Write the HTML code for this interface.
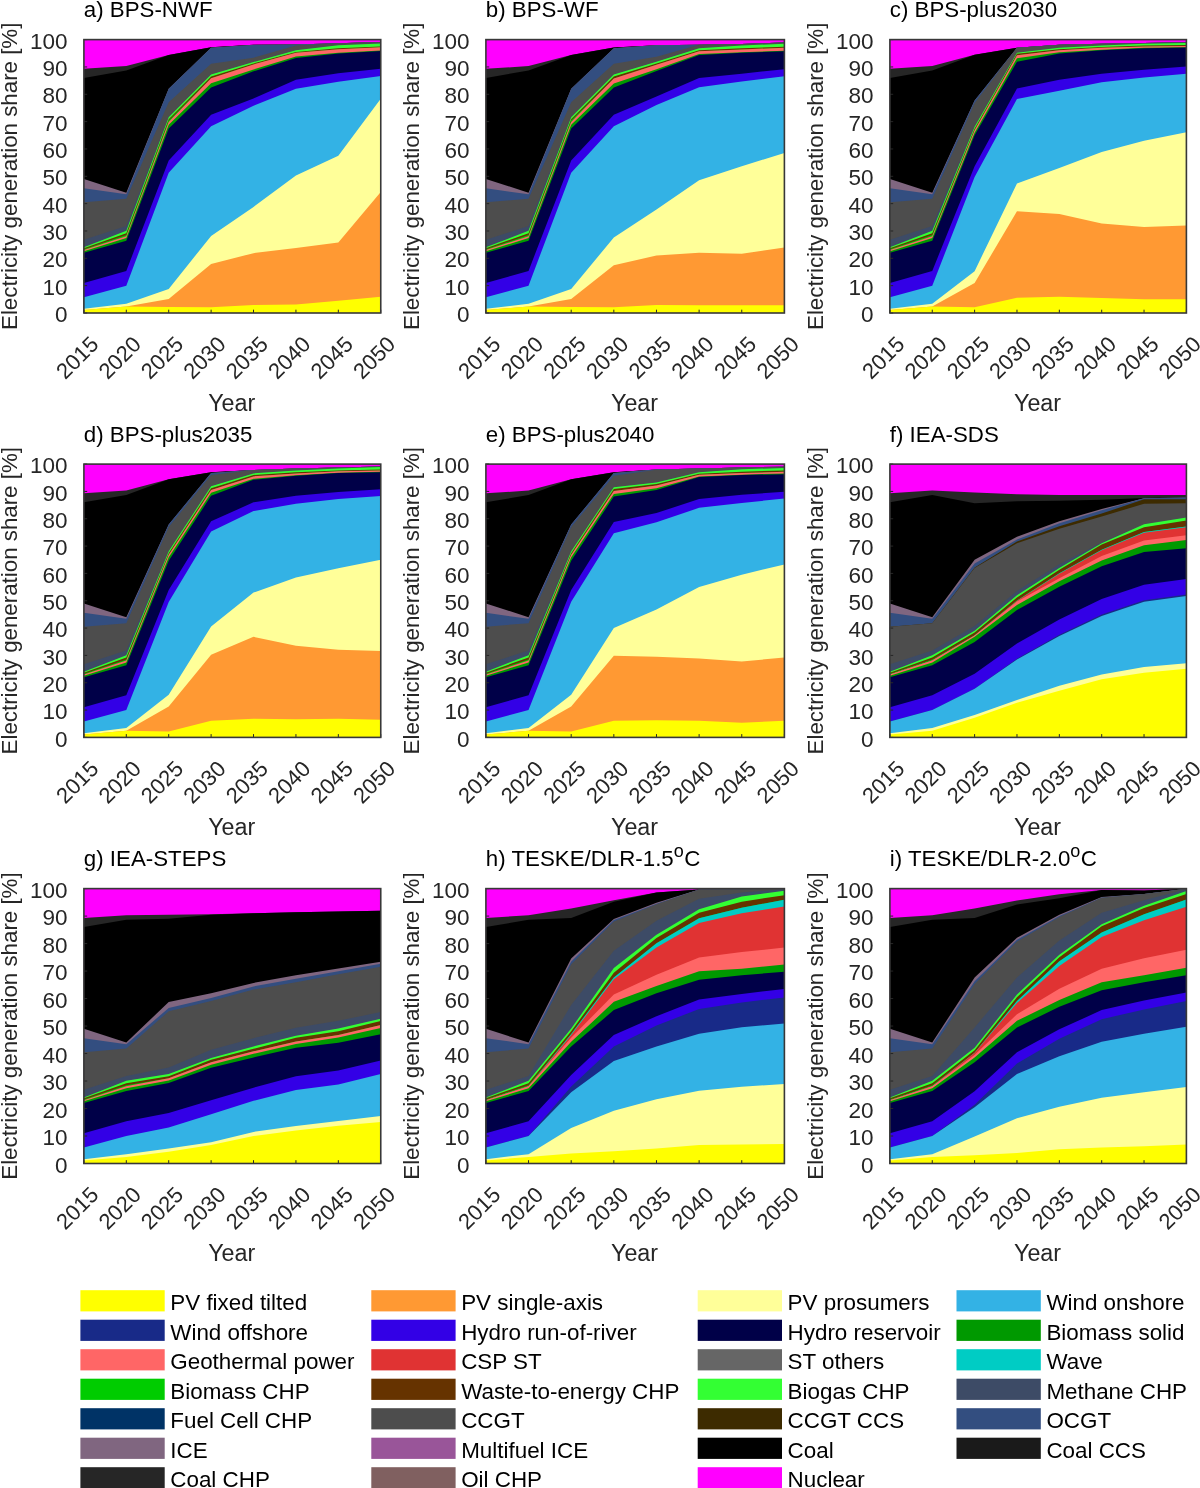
<!DOCTYPE html>
<html><head><meta charset="utf-8"><style>
html,body{margin:0;padding:0;background:#fff;}
body{width:1200px;height:1488px;overflow:hidden;font-family:"Liberation Sans",sans-serif;}
svg{display:block;will-change:transform;}
</style></head><body>
<svg width="1200" height="1488" viewBox="0 0 1200 1488">
<rect width="1200" height="1488" fill="#fff"/>
<polygon points="83.90,39.60 126.31,39.60 168.71,39.60 211.12,39.60 253.53,39.60 295.94,39.60 338.34,39.60 380.75,39.60 380.75,313.00 83.90,313.00" fill="#FF00FF"/>
<polygon points="83.90,68.85 126.31,66.12 168.71,54.91 211.12,47.26 253.53,44.79 295.94,44.52 338.34,43.15 380.75,42.06 380.75,313.00 83.90,313.00" fill="#262626"/>
<polygon points="83.90,77.88 126.31,70.49 168.71,54.91 211.12,47.26 253.53,44.79 295.94,44.52 338.34,43.15 380.75,42.06 380.75,313.00 83.90,313.00" fill="#000000"/>
<polygon points="83.90,179.03 126.31,192.70 168.71,88.81 211.12,47.80 253.53,45.07 295.94,44.52 338.34,43.15 380.75,42.06 380.75,313.00 83.90,313.00" fill="#806680"/>
<polygon points="83.90,188.33 126.31,194.34 168.71,88.81 211.12,47.80 253.53,45.07 295.94,44.52 338.34,43.15 380.75,42.06 380.75,313.00 83.90,313.00" fill="#334E80"/>
<polygon points="83.90,202.27 126.31,198.72 168.71,102.21 211.12,63.66 253.53,57.64 295.94,45.61 338.34,43.15 380.75,42.06 380.75,313.00 83.90,313.00" fill="#4D4D4D"/>
<polygon points="83.90,239.73 126.31,226.06 168.71,117.25 211.12,74.60 253.53,62.02 295.94,50.26 338.34,45.34 380.75,43.43 380.75,313.00 83.90,313.00" fill="#3D4B66"/>
<polygon points="83.90,247.25 126.31,230.71 168.71,117.25 211.12,74.60 253.53,62.02 295.94,50.26 338.34,45.34 380.75,43.43 380.75,313.00 83.90,313.00" fill="#33FF33"/>
<polygon points="83.90,248.20 126.31,233.17 168.71,119.16 211.12,76.51 253.53,63.39 295.94,51.90 338.34,48.35 380.75,46.44 380.75,313.00 83.90,313.00" fill="#663300"/>
<polygon points="83.90,249.30 126.31,235.08 168.71,120.53 211.12,78.15 253.53,64.48 295.94,52.72 338.34,49.17 380.75,47.26 380.75,313.00 83.90,313.00" fill="#00CC00"/>
<polygon points="83.90,250.12 126.31,236.17 168.71,121.89 211.12,78.15 253.53,64.48 295.94,52.72 338.34,49.17 380.75,47.26 380.75,313.00 83.90,313.00" fill="#FF6666"/>
<polygon points="83.90,251.21 126.31,238.09 168.71,124.63 211.12,83.34 253.53,69.40 295.94,56.55 338.34,52.72 380.75,50.54 380.75,313.00 83.90,313.00" fill="#009900"/>
<polygon points="83.90,252.85 126.31,240.82 168.71,128.46 211.12,87.45 253.53,71.31 295.94,57.92 338.34,53.54 380.75,51.08 380.75,313.00 83.90,313.00" fill="#000048"/>
<polygon points="83.90,282.93 126.31,270.90 168.71,160.44 211.12,114.78 253.53,98.38 295.94,79.79 338.34,73.23 380.75,68.85 380.75,313.00 83.90,313.00" fill="#3300E6"/>
<polygon points="83.90,297.14 126.31,285.66 168.71,172.75 211.12,126.27 253.53,105.76 295.94,88.81 338.34,81.70 380.75,75.96 380.75,313.00 83.90,313.00" fill="#33B2E5"/>
<polygon points="83.90,308.76 126.31,303.70 168.71,288.94 211.12,235.90 253.53,206.92 295.94,175.48 338.34,155.80 380.75,98.65 380.75,313.00 83.90,313.00" fill="#FFFF99"/>
<polygon points="83.90,309.99 126.31,306.44 168.71,299.06 211.12,264.06 253.53,253.13 295.94,247.93 338.34,242.46 380.75,191.88 380.75,313.00 83.90,313.00" fill="#FF9933"/>
<polygon points="83.90,309.99 126.31,306.44 168.71,306.99 211.12,307.26 253.53,305.07 295.94,304.52 338.34,300.70 380.75,296.87 380.75,313.00 83.90,313.00" fill="#FFFF00"/>
<path d="M83.90 313.00h3.3M83.90 285.66h3.3M83.90 258.32h3.3M83.90 230.98h3.3M83.90 203.64h3.3M83.90 176.30h3.3M83.90 148.96h3.3M83.90 121.62h3.3M83.90 94.28h3.3M83.90 66.94h3.3M83.90 39.60h3.3M83.90 313.00v-3.3M126.31 313.00v-3.3M168.71 313.00v-3.3M211.12 313.00v-3.3M253.53 313.00v-3.3M295.94 313.00v-3.3M338.34 313.00v-3.3M380.75 313.00v-3.3" stroke="#262626" stroke-width="1" fill="none"/>
<rect x="83.90" y="39.60" width="296.85" height="273.40" fill="none" stroke="#383838" stroke-width="1.6"/>
<text x="83.80" y="17.00" font-size="22.3" font-family="Liberation Sans, sans-serif" fill="#000">a) BPS-NWF</text>
<text x="67.55" y="322.10" font-size="22.5" font-family="Liberation Sans, sans-serif" fill="#262626" text-anchor="end">0</text>
<text x="67.55" y="294.76" font-size="22.5" font-family="Liberation Sans, sans-serif" fill="#262626" text-anchor="end">10</text>
<text x="67.55" y="267.42" font-size="22.5" font-family="Liberation Sans, sans-serif" fill="#262626" text-anchor="end">20</text>
<text x="67.55" y="240.08" font-size="22.5" font-family="Liberation Sans, sans-serif" fill="#262626" text-anchor="end">30</text>
<text x="67.55" y="212.74" font-size="22.5" font-family="Liberation Sans, sans-serif" fill="#262626" text-anchor="end">40</text>
<text x="67.55" y="185.40" font-size="22.5" font-family="Liberation Sans, sans-serif" fill="#262626" text-anchor="end">50</text>
<text x="67.55" y="158.06" font-size="22.5" font-family="Liberation Sans, sans-serif" fill="#262626" text-anchor="end">60</text>
<text x="67.55" y="130.72" font-size="22.5" font-family="Liberation Sans, sans-serif" fill="#262626" text-anchor="end">70</text>
<text x="67.55" y="103.38" font-size="22.5" font-family="Liberation Sans, sans-serif" fill="#262626" text-anchor="end">80</text>
<text x="67.55" y="76.04" font-size="22.5" font-family="Liberation Sans, sans-serif" fill="#262626" text-anchor="end">90</text>
<text x="67.55" y="48.70" font-size="22.5" font-family="Liberation Sans, sans-serif" fill="#262626" text-anchor="end">100</text>
<text transform="translate(99.90 345.70) rotate(-45)" font-size="22" font-family="Liberation Sans, sans-serif" fill="#262626" text-anchor="end">2015</text>
<text transform="translate(142.31 345.70) rotate(-45)" font-size="22" font-family="Liberation Sans, sans-serif" fill="#262626" text-anchor="end">2020</text>
<text transform="translate(184.71 345.70) rotate(-45)" font-size="22" font-family="Liberation Sans, sans-serif" fill="#262626" text-anchor="end">2025</text>
<text transform="translate(227.12 345.70) rotate(-45)" font-size="22" font-family="Liberation Sans, sans-serif" fill="#262626" text-anchor="end">2030</text>
<text transform="translate(269.53 345.70) rotate(-45)" font-size="22" font-family="Liberation Sans, sans-serif" fill="#262626" text-anchor="end">2035</text>
<text transform="translate(311.94 345.70) rotate(-45)" font-size="22" font-family="Liberation Sans, sans-serif" fill="#262626" text-anchor="end">2040</text>
<text transform="translate(354.34 345.70) rotate(-45)" font-size="22" font-family="Liberation Sans, sans-serif" fill="#262626" text-anchor="end">2045</text>
<text transform="translate(396.75 345.70) rotate(-45)" font-size="22" font-family="Liberation Sans, sans-serif" fill="#262626" text-anchor="end">2050</text>
<text x="231.73" y="410.80" font-size="23.3" font-family="Liberation Sans, sans-serif" fill="#262626" text-anchor="middle">Year</text>
<text transform="translate(16.50 176.30) rotate(-90)" font-size="22.3" font-family="Liberation Sans, sans-serif" fill="#262626" text-anchor="middle">Electricity generation share [%]</text>
<polygon points="485.90,39.60 528.54,39.60 571.19,39.60 613.83,39.60 656.47,39.60 699.11,39.60 741.76,39.60 784.40,39.60 784.40,313.00 485.90,313.00" fill="#FF00FF"/>
<polygon points="485.90,68.85 528.54,66.12 571.19,54.91 613.83,47.53 656.47,45.34 699.11,44.79 741.76,43.97 784.40,42.61 784.40,313.00 485.90,313.00" fill="#262626"/>
<polygon points="485.90,77.88 528.54,70.49 571.19,54.91 613.83,47.53 656.47,45.34 699.11,44.79 741.76,43.97 784.40,42.61 784.40,313.00 485.90,313.00" fill="#000000"/>
<polygon points="485.90,179.03 528.54,192.70 571.19,88.81 613.83,48.35 656.47,45.34 699.11,44.79 741.76,43.97 784.40,42.61 784.40,313.00 485.90,313.00" fill="#806680"/>
<polygon points="485.90,188.33 528.54,194.34 571.19,88.81 613.83,48.35 656.47,45.34 699.11,44.79 741.76,43.97 784.40,42.61 784.40,313.00 485.90,313.00" fill="#334E80"/>
<polygon points="485.90,202.27 528.54,198.72 571.19,102.21 613.83,63.66 656.47,56.82 699.11,44.79 741.76,43.97 784.40,42.61 784.40,313.00 485.90,313.00" fill="#4D4D4D"/>
<polygon points="485.90,239.73 528.54,226.06 571.19,117.25 613.83,74.60 656.47,61.75 699.11,48.35 741.76,45.61 784.40,43.70 784.40,313.00 485.90,313.00" fill="#3D4B66"/>
<polygon points="485.90,247.25 528.54,230.71 571.19,117.25 613.83,74.60 656.47,61.75 699.11,48.35 741.76,45.61 784.40,43.70 784.40,313.00 485.90,313.00" fill="#33FF33"/>
<polygon points="485.90,248.20 528.54,233.17 571.19,119.16 613.83,76.51 656.47,63.39 699.11,50.26 741.76,48.35 784.40,46.71 784.40,313.00 485.90,313.00" fill="#663300"/>
<polygon points="485.90,249.30 528.54,235.08 571.19,120.53 613.83,78.42 656.47,64.75 699.11,51.36 741.76,49.44 784.40,47.80 784.40,313.00 485.90,313.00" fill="#00CC00"/>
<polygon points="485.90,250.12 528.54,236.17 571.19,121.89 613.83,78.42 656.47,64.75 699.11,51.36 741.76,49.44 784.40,47.80 784.40,313.00 485.90,313.00" fill="#FF6666"/>
<polygon points="485.90,251.21 528.54,238.09 571.19,124.63 613.83,83.62 656.47,69.13 699.11,54.09 741.76,52.18 784.40,50.81 784.40,313.00 485.90,313.00" fill="#009900"/>
<polygon points="485.90,252.85 528.54,240.82 571.19,128.46 613.83,87.45 656.47,71.04 699.11,54.91 741.76,52.72 784.40,51.36 784.40,313.00 485.90,313.00" fill="#000048"/>
<polygon points="485.90,282.93 528.54,270.90 571.19,160.44 613.83,114.78 656.47,96.47 699.11,77.88 741.76,73.78 784.40,69.13 784.40,313.00 485.90,313.00" fill="#3300E6"/>
<polygon points="485.90,297.14 528.54,285.66 571.19,172.75 613.83,126.27 656.47,104.94 699.11,87.17 741.76,81.43 784.40,76.24 784.40,313.00 485.90,313.00" fill="#33B2E5"/>
<polygon points="485.90,308.76 528.54,303.70 571.19,288.94 613.83,237.54 656.47,209.38 699.11,180.13 741.76,166.18 784.40,153.06 784.40,313.00 485.90,313.00" fill="#FFFF99"/>
<polygon points="485.90,309.99 528.54,306.44 571.19,299.06 613.83,265.29 656.47,255.59 699.11,252.85 741.76,253.67 784.40,247.38 784.40,313.00 485.90,313.00" fill="#FF9933"/>
<polygon points="485.90,309.99 528.54,306.44 571.19,306.99 613.83,307.26 656.47,305.07 699.11,305.34 741.76,305.34 784.40,305.34 784.40,313.00 485.90,313.00" fill="#FFFF00"/>
<path d="M485.90 313.00h3.3M485.90 285.66h3.3M485.90 258.32h3.3M485.90 230.98h3.3M485.90 203.64h3.3M485.90 176.30h3.3M485.90 148.96h3.3M485.90 121.62h3.3M485.90 94.28h3.3M485.90 66.94h3.3M485.90 39.60h3.3M485.90 313.00v-3.3M528.54 313.00v-3.3M571.19 313.00v-3.3M613.83 313.00v-3.3M656.47 313.00v-3.3M699.11 313.00v-3.3M741.76 313.00v-3.3M784.40 313.00v-3.3" stroke="#262626" stroke-width="1" fill="none"/>
<rect x="485.90" y="39.60" width="298.50" height="273.40" fill="none" stroke="#383838" stroke-width="1.6"/>
<text x="485.80" y="17.00" font-size="22.3" font-family="Liberation Sans, sans-serif" fill="#000">b) BPS-WF</text>
<text x="469.55" y="322.10" font-size="22.5" font-family="Liberation Sans, sans-serif" fill="#262626" text-anchor="end">0</text>
<text x="469.55" y="294.76" font-size="22.5" font-family="Liberation Sans, sans-serif" fill="#262626" text-anchor="end">10</text>
<text x="469.55" y="267.42" font-size="22.5" font-family="Liberation Sans, sans-serif" fill="#262626" text-anchor="end">20</text>
<text x="469.55" y="240.08" font-size="22.5" font-family="Liberation Sans, sans-serif" fill="#262626" text-anchor="end">30</text>
<text x="469.55" y="212.74" font-size="22.5" font-family="Liberation Sans, sans-serif" fill="#262626" text-anchor="end">40</text>
<text x="469.55" y="185.40" font-size="22.5" font-family="Liberation Sans, sans-serif" fill="#262626" text-anchor="end">50</text>
<text x="469.55" y="158.06" font-size="22.5" font-family="Liberation Sans, sans-serif" fill="#262626" text-anchor="end">60</text>
<text x="469.55" y="130.72" font-size="22.5" font-family="Liberation Sans, sans-serif" fill="#262626" text-anchor="end">70</text>
<text x="469.55" y="103.38" font-size="22.5" font-family="Liberation Sans, sans-serif" fill="#262626" text-anchor="end">80</text>
<text x="469.55" y="76.04" font-size="22.5" font-family="Liberation Sans, sans-serif" fill="#262626" text-anchor="end">90</text>
<text x="469.55" y="48.70" font-size="22.5" font-family="Liberation Sans, sans-serif" fill="#262626" text-anchor="end">100</text>
<text transform="translate(501.90 345.70) rotate(-45)" font-size="22" font-family="Liberation Sans, sans-serif" fill="#262626" text-anchor="end">2015</text>
<text transform="translate(544.54 345.70) rotate(-45)" font-size="22" font-family="Liberation Sans, sans-serif" fill="#262626" text-anchor="end">2020</text>
<text transform="translate(587.19 345.70) rotate(-45)" font-size="22" font-family="Liberation Sans, sans-serif" fill="#262626" text-anchor="end">2025</text>
<text transform="translate(629.83 345.70) rotate(-45)" font-size="22" font-family="Liberation Sans, sans-serif" fill="#262626" text-anchor="end">2030</text>
<text transform="translate(672.47 345.70) rotate(-45)" font-size="22" font-family="Liberation Sans, sans-serif" fill="#262626" text-anchor="end">2035</text>
<text transform="translate(715.11 345.70) rotate(-45)" font-size="22" font-family="Liberation Sans, sans-serif" fill="#262626" text-anchor="end">2040</text>
<text transform="translate(757.76 345.70) rotate(-45)" font-size="22" font-family="Liberation Sans, sans-serif" fill="#262626" text-anchor="end">2045</text>
<text transform="translate(800.40 345.70) rotate(-45)" font-size="22" font-family="Liberation Sans, sans-serif" fill="#262626" text-anchor="end">2050</text>
<text x="634.55" y="410.80" font-size="23.3" font-family="Liberation Sans, sans-serif" fill="#262626" text-anchor="middle">Year</text>
<text transform="translate(418.50 176.30) rotate(-90)" font-size="22.3" font-family="Liberation Sans, sans-serif" fill="#262626" text-anchor="middle">Electricity generation share [%]</text>
<polygon points="889.90,39.60 932.26,39.60 974.61,39.60 1016.97,39.60 1059.33,39.60 1101.69,39.60 1144.04,39.60 1186.40,39.60 1186.40,313.00 889.90,313.00" fill="#FF00FF"/>
<polygon points="889.90,68.85 932.26,66.12 974.61,54.64 1016.97,47.80 1059.33,44.79 1101.69,43.70 1144.04,42.88 1186.40,42.33 1186.40,313.00 889.90,313.00" fill="#262626"/>
<polygon points="889.90,77.88 932.26,70.49 974.61,54.64 1016.97,47.80 1059.33,44.79 1101.69,43.70 1144.04,42.88 1186.40,42.33 1186.40,313.00 889.90,313.00" fill="#000000"/>
<polygon points="889.90,179.03 932.26,192.70 974.61,100.57 1016.97,47.80 1059.33,44.79 1101.69,43.70 1144.04,42.88 1186.40,42.33 1186.40,313.00 889.90,313.00" fill="#806680"/>
<polygon points="889.90,188.33 932.26,194.34 974.61,100.57 1016.97,47.80 1059.33,44.79 1101.69,43.70 1144.04,42.88 1186.40,42.33 1186.40,313.00 889.90,313.00" fill="#334E80"/>
<polygon points="889.90,202.27 932.26,198.72 974.61,103.03 1016.97,47.80 1059.33,44.79 1101.69,43.70 1144.04,42.88 1186.40,42.33 1186.40,313.00 889.90,313.00" fill="#4D4D4D"/>
<polygon points="889.90,239.73 932.26,226.06 974.61,126.81 1016.97,52.72 1059.33,47.80 1101.69,45.61 1144.04,43.70 1186.40,42.88 1186.40,313.00 889.90,313.00" fill="#3D4B66"/>
<polygon points="889.90,247.25 932.26,230.71 974.61,126.81 1016.97,52.72 1059.33,47.80 1101.69,45.61 1144.04,43.70 1186.40,42.88 1186.40,313.00 889.90,313.00" fill="#33FF33"/>
<polygon points="889.90,248.20 932.26,233.17 974.61,128.73 1016.97,53.82 1059.33,49.17 1101.69,46.98 1144.04,45.61 1186.40,45.07 1186.40,313.00 889.90,313.00" fill="#663300"/>
<polygon points="889.90,249.30 932.26,235.08 974.61,130.37 1016.97,55.18 1059.33,50.26 1101.69,47.80 1144.04,46.44 1186.40,45.89 1186.40,313.00 889.90,313.00" fill="#00CC00"/>
<polygon points="889.90,250.12 932.26,236.17 974.61,130.37 1016.97,55.18 1059.33,50.26 1101.69,47.80 1144.04,46.44 1186.40,45.89 1186.40,313.00 889.90,313.00" fill="#FF6666"/>
<polygon points="889.90,251.21 932.26,238.09 974.61,132.83 1016.97,58.19 1059.33,52.18 1101.69,49.72 1144.04,47.80 1186.40,47.26 1186.40,313.00 889.90,313.00" fill="#009900"/>
<polygon points="889.90,252.85 932.26,240.82 974.61,135.29 1016.97,61.75 1059.33,53.54 1101.69,50.26 1144.04,48.35 1186.40,47.53 1186.40,313.00 889.90,313.00" fill="#000048"/>
<polygon points="889.90,282.93 932.26,270.90 974.61,166.18 1016.97,88.54 1059.33,79.79 1101.69,73.78 1144.04,69.67 1186.40,66.39 1186.40,313.00 889.90,313.00" fill="#3300E6"/>
<polygon points="889.90,297.14 932.26,285.66 974.61,177.12 1016.97,98.93 1059.33,90.73 1101.69,82.25 1144.04,77.60 1186.40,73.78 1186.40,313.00 889.90,313.00" fill="#33B2E5"/>
<polygon points="889.90,308.76 932.26,303.70 974.61,271.17 1016.97,183.41 1059.33,168.10 1101.69,151.97 1144.04,140.76 1186.40,132.28 1186.40,313.00 889.90,313.00" fill="#FFFF99"/>
<polygon points="889.90,309.99 932.26,306.44 974.61,282.93 1016.97,211.30 1059.33,214.03 1101.69,223.60 1144.04,226.88 1186.40,225.51 1186.40,313.00 889.90,313.00" fill="#FF9933"/>
<polygon points="889.90,309.99 932.26,306.44 974.61,307.26 1016.97,297.69 1059.33,296.87 1101.69,297.96 1144.04,299.33 1186.40,299.33 1186.40,313.00 889.90,313.00" fill="#FFFF00"/>
<path d="M889.90 313.00h3.3M889.90 285.66h3.3M889.90 258.32h3.3M889.90 230.98h3.3M889.90 203.64h3.3M889.90 176.30h3.3M889.90 148.96h3.3M889.90 121.62h3.3M889.90 94.28h3.3M889.90 66.94h3.3M889.90 39.60h3.3M889.90 313.00v-3.3M932.26 313.00v-3.3M974.61 313.00v-3.3M1016.97 313.00v-3.3M1059.33 313.00v-3.3M1101.69 313.00v-3.3M1144.04 313.00v-3.3M1186.40 313.00v-3.3" stroke="#262626" stroke-width="1" fill="none"/>
<rect x="889.90" y="39.60" width="296.50" height="273.40" fill="none" stroke="#383838" stroke-width="1.6"/>
<text x="889.80" y="17.00" font-size="22.3" font-family="Liberation Sans, sans-serif" fill="#000">c) BPS-plus2030</text>
<text x="873.55" y="322.10" font-size="22.5" font-family="Liberation Sans, sans-serif" fill="#262626" text-anchor="end">0</text>
<text x="873.55" y="294.76" font-size="22.5" font-family="Liberation Sans, sans-serif" fill="#262626" text-anchor="end">10</text>
<text x="873.55" y="267.42" font-size="22.5" font-family="Liberation Sans, sans-serif" fill="#262626" text-anchor="end">20</text>
<text x="873.55" y="240.08" font-size="22.5" font-family="Liberation Sans, sans-serif" fill="#262626" text-anchor="end">30</text>
<text x="873.55" y="212.74" font-size="22.5" font-family="Liberation Sans, sans-serif" fill="#262626" text-anchor="end">40</text>
<text x="873.55" y="185.40" font-size="22.5" font-family="Liberation Sans, sans-serif" fill="#262626" text-anchor="end">50</text>
<text x="873.55" y="158.06" font-size="22.5" font-family="Liberation Sans, sans-serif" fill="#262626" text-anchor="end">60</text>
<text x="873.55" y="130.72" font-size="22.5" font-family="Liberation Sans, sans-serif" fill="#262626" text-anchor="end">70</text>
<text x="873.55" y="103.38" font-size="22.5" font-family="Liberation Sans, sans-serif" fill="#262626" text-anchor="end">80</text>
<text x="873.55" y="76.04" font-size="22.5" font-family="Liberation Sans, sans-serif" fill="#262626" text-anchor="end">90</text>
<text x="873.55" y="48.70" font-size="22.5" font-family="Liberation Sans, sans-serif" fill="#262626" text-anchor="end">100</text>
<text transform="translate(905.90 345.70) rotate(-45)" font-size="22" font-family="Liberation Sans, sans-serif" fill="#262626" text-anchor="end">2015</text>
<text transform="translate(948.26 345.70) rotate(-45)" font-size="22" font-family="Liberation Sans, sans-serif" fill="#262626" text-anchor="end">2020</text>
<text transform="translate(990.61 345.70) rotate(-45)" font-size="22" font-family="Liberation Sans, sans-serif" fill="#262626" text-anchor="end">2025</text>
<text transform="translate(1032.97 345.70) rotate(-45)" font-size="22" font-family="Liberation Sans, sans-serif" fill="#262626" text-anchor="end">2030</text>
<text transform="translate(1075.33 345.70) rotate(-45)" font-size="22" font-family="Liberation Sans, sans-serif" fill="#262626" text-anchor="end">2035</text>
<text transform="translate(1117.69 345.70) rotate(-45)" font-size="22" font-family="Liberation Sans, sans-serif" fill="#262626" text-anchor="end">2040</text>
<text transform="translate(1160.04 345.70) rotate(-45)" font-size="22" font-family="Liberation Sans, sans-serif" fill="#262626" text-anchor="end">2045</text>
<text transform="translate(1202.40 345.70) rotate(-45)" font-size="22" font-family="Liberation Sans, sans-serif" fill="#262626" text-anchor="end">2050</text>
<text x="1037.55" y="410.80" font-size="23.3" font-family="Liberation Sans, sans-serif" fill="#262626" text-anchor="middle">Year</text>
<text transform="translate(822.50 176.30) rotate(-90)" font-size="22.3" font-family="Liberation Sans, sans-serif" fill="#262626" text-anchor="middle">Electricity generation share [%]</text>
<polygon points="83.90,464.10 126.31,464.10 168.71,464.10 211.12,464.10 253.53,464.10 295.94,464.10 338.34,464.10 380.75,464.10 380.75,737.40 83.90,737.40" fill="#FF00FF"/>
<polygon points="83.90,493.34 126.31,490.61 168.71,479.13 211.12,472.30 253.53,470.11 295.94,468.47 338.34,467.38 380.75,466.56 380.75,737.40 83.90,737.40" fill="#262626"/>
<polygon points="83.90,502.36 126.31,494.98 168.71,479.13 211.12,472.30 253.53,470.11 295.94,468.47 338.34,467.38 380.75,466.56 380.75,737.40 83.90,737.40" fill="#000000"/>
<polygon points="83.90,603.48 126.31,617.15 168.71,524.50 211.12,473.12 253.53,470.11 295.94,468.47 338.34,467.38 380.75,466.56 380.75,737.40 83.90,737.40" fill="#806680"/>
<polygon points="83.90,612.78 126.31,618.79 168.71,524.50 211.12,473.12 253.53,470.11 295.94,468.47 338.34,467.38 380.75,466.56 380.75,737.40 83.90,737.40" fill="#334E80"/>
<polygon points="83.90,626.71 126.31,623.16 168.71,526.96 211.12,475.03 253.53,470.11 295.94,468.47 338.34,467.38 380.75,466.56 380.75,737.40 83.90,737.40" fill="#4D4D4D"/>
<polygon points="83.90,664.16 126.31,650.49 168.71,551.28 211.12,486.24 253.53,473.39 295.94,470.39 338.34,468.47 380.75,467.11 380.75,737.40 83.90,737.40" fill="#3D4B66"/>
<polygon points="83.90,671.67 126.31,655.14 168.71,551.28 211.12,486.24 253.53,473.39 295.94,470.39 338.34,468.47 380.75,467.11 380.75,737.40 83.90,737.40" fill="#33FF33"/>
<polygon points="83.90,672.63 126.31,657.60 168.71,553.20 211.12,488.15 253.53,475.03 295.94,472.30 338.34,470.39 380.75,469.57 380.75,737.40 83.90,737.40" fill="#663300"/>
<polygon points="83.90,673.72 126.31,659.51 168.71,554.84 211.12,490.06 253.53,476.40 295.94,473.39 338.34,471.21 380.75,470.39 380.75,737.40 83.90,737.40" fill="#00CC00"/>
<polygon points="83.90,674.54 126.31,660.60 168.71,554.84 211.12,490.06 253.53,476.40 295.94,473.39 338.34,471.21 380.75,470.39 380.75,737.40 83.90,737.40" fill="#FF6666"/>
<polygon points="83.90,675.63 126.31,662.52 168.71,557.30 211.12,492.80 253.53,478.86 295.94,475.31 338.34,472.85 380.75,471.75 380.75,737.40 83.90,737.40" fill="#009900"/>
<polygon points="83.90,677.27 126.31,665.25 168.71,560.85 211.12,495.80 253.53,479.68 295.94,475.85 338.34,473.12 380.75,472.30 380.75,737.40 83.90,737.40" fill="#000048"/>
<polygon points="83.90,707.34 126.31,695.31 168.71,590.09 211.12,521.22 253.53,502.36 295.94,495.80 338.34,491.98 380.75,489.24 380.75,737.40 83.90,737.40" fill="#3300E6"/>
<polygon points="83.90,721.55 126.31,710.07 168.71,602.12 211.12,531.61 253.53,511.11 295.94,503.73 338.34,499.08 380.75,496.08 380.75,737.40 83.90,737.40" fill="#33B2E5"/>
<polygon points="83.90,733.16 126.31,728.11 168.71,694.77 211.12,626.44 253.53,592.55 295.94,577.52 338.34,568.23 380.75,559.75 380.75,737.40 83.90,737.40" fill="#FFFF99"/>
<polygon points="83.90,734.39 126.31,730.84 168.71,706.52 211.12,654.86 253.53,636.83 295.94,645.84 338.34,649.67 380.75,651.04 380.75,737.40 83.90,737.40" fill="#FF9933"/>
<polygon points="83.90,734.39 126.31,730.84 168.71,731.39 211.12,720.73 253.53,718.82 295.94,719.36 338.34,718.82 380.75,719.64 380.75,737.40 83.90,737.40" fill="#FFFF00"/>
<path d="M83.90 737.40h3.3M83.90 710.07h3.3M83.90 682.74h3.3M83.90 655.41h3.3M83.90 628.08h3.3M83.90 600.75h3.3M83.90 573.42h3.3M83.90 546.09h3.3M83.90 518.76h3.3M83.90 491.43h3.3M83.90 464.10h3.3M83.90 737.40v-3.3M126.31 737.40v-3.3M168.71 737.40v-3.3M211.12 737.40v-3.3M253.53 737.40v-3.3M295.94 737.40v-3.3M338.34 737.40v-3.3M380.75 737.40v-3.3" stroke="#262626" stroke-width="1" fill="none"/>
<rect x="83.90" y="464.10" width="296.85" height="273.30" fill="none" stroke="#383838" stroke-width="1.6"/>
<text x="83.80" y="441.50" font-size="22.3" font-family="Liberation Sans, sans-serif" fill="#000">d) BPS-plus2035</text>
<text x="67.55" y="746.50" font-size="22.5" font-family="Liberation Sans, sans-serif" fill="#262626" text-anchor="end">0</text>
<text x="67.55" y="719.17" font-size="22.5" font-family="Liberation Sans, sans-serif" fill="#262626" text-anchor="end">10</text>
<text x="67.55" y="691.84" font-size="22.5" font-family="Liberation Sans, sans-serif" fill="#262626" text-anchor="end">20</text>
<text x="67.55" y="664.51" font-size="22.5" font-family="Liberation Sans, sans-serif" fill="#262626" text-anchor="end">30</text>
<text x="67.55" y="637.18" font-size="22.5" font-family="Liberation Sans, sans-serif" fill="#262626" text-anchor="end">40</text>
<text x="67.55" y="609.85" font-size="22.5" font-family="Liberation Sans, sans-serif" fill="#262626" text-anchor="end">50</text>
<text x="67.55" y="582.52" font-size="22.5" font-family="Liberation Sans, sans-serif" fill="#262626" text-anchor="end">60</text>
<text x="67.55" y="555.19" font-size="22.5" font-family="Liberation Sans, sans-serif" fill="#262626" text-anchor="end">70</text>
<text x="67.55" y="527.86" font-size="22.5" font-family="Liberation Sans, sans-serif" fill="#262626" text-anchor="end">80</text>
<text x="67.55" y="500.53" font-size="22.5" font-family="Liberation Sans, sans-serif" fill="#262626" text-anchor="end">90</text>
<text x="67.55" y="473.20" font-size="22.5" font-family="Liberation Sans, sans-serif" fill="#262626" text-anchor="end">100</text>
<text transform="translate(99.90 770.10) rotate(-45)" font-size="22" font-family="Liberation Sans, sans-serif" fill="#262626" text-anchor="end">2015</text>
<text transform="translate(142.31 770.10) rotate(-45)" font-size="22" font-family="Liberation Sans, sans-serif" fill="#262626" text-anchor="end">2020</text>
<text transform="translate(184.71 770.10) rotate(-45)" font-size="22" font-family="Liberation Sans, sans-serif" fill="#262626" text-anchor="end">2025</text>
<text transform="translate(227.12 770.10) rotate(-45)" font-size="22" font-family="Liberation Sans, sans-serif" fill="#262626" text-anchor="end">2030</text>
<text transform="translate(269.53 770.10) rotate(-45)" font-size="22" font-family="Liberation Sans, sans-serif" fill="#262626" text-anchor="end">2035</text>
<text transform="translate(311.94 770.10) rotate(-45)" font-size="22" font-family="Liberation Sans, sans-serif" fill="#262626" text-anchor="end">2040</text>
<text transform="translate(354.34 770.10) rotate(-45)" font-size="22" font-family="Liberation Sans, sans-serif" fill="#262626" text-anchor="end">2045</text>
<text transform="translate(396.75 770.10) rotate(-45)" font-size="22" font-family="Liberation Sans, sans-serif" fill="#262626" text-anchor="end">2050</text>
<text x="231.73" y="835.20" font-size="23.3" font-family="Liberation Sans, sans-serif" fill="#262626" text-anchor="middle">Year</text>
<text transform="translate(16.50 600.75) rotate(-90)" font-size="22.3" font-family="Liberation Sans, sans-serif" fill="#262626" text-anchor="middle">Electricity generation share [%]</text>
<polygon points="485.90,464.10 528.54,464.10 571.19,464.10 613.83,464.10 656.47,464.10 699.11,464.10 741.76,464.10 784.40,464.10 784.40,737.40 485.90,737.40" fill="#FF00FF"/>
<polygon points="485.90,493.34 528.54,490.61 571.19,479.13 613.83,472.30 656.47,469.57 699.11,468.47 741.76,467.38 784.40,466.83 784.40,737.40 485.90,737.40" fill="#262626"/>
<polygon points="485.90,502.36 528.54,494.98 571.19,479.13 613.83,472.30 656.47,469.57 699.11,468.47 741.76,467.38 784.40,466.83 784.40,737.40 485.90,737.40" fill="#000000"/>
<polygon points="485.90,603.48 528.54,617.15 571.19,524.50 613.83,473.12 656.47,469.57 699.11,468.47 741.76,467.38 784.40,466.83 784.40,737.40 485.90,737.40" fill="#806680"/>
<polygon points="485.90,612.78 528.54,618.79 571.19,524.50 613.83,473.12 656.47,469.57 699.11,468.47 741.76,467.38 784.40,466.83 784.40,737.40 485.90,737.40" fill="#334E80"/>
<polygon points="485.90,626.71 528.54,623.16 571.19,526.96 613.83,475.85 656.47,469.84 699.11,468.47 741.76,467.38 784.40,466.83 784.40,737.40 485.90,737.40" fill="#4D4D4D"/>
<polygon points="485.90,664.16 528.54,650.49 571.19,551.28 613.83,487.33 656.47,482.41 699.11,472.30 741.76,469.29 784.40,467.93 784.40,737.40 485.90,737.40" fill="#3D4B66"/>
<polygon points="485.90,671.67 528.54,655.14 571.19,551.28 613.83,487.33 656.47,482.41 699.11,472.30 741.76,469.29 784.40,467.93 784.40,737.40 485.90,737.40" fill="#33FF33"/>
<polygon points="485.90,672.63 528.54,657.60 571.19,553.20 613.83,488.97 656.47,484.05 699.11,473.67 741.76,471.75 784.40,470.39 784.40,737.40 485.90,737.40" fill="#663300"/>
<polygon points="485.90,673.72 528.54,659.51 571.19,554.84 613.83,490.88 656.47,485.42 699.11,474.76 741.76,473.12 784.40,471.75 784.40,737.40 485.90,737.40" fill="#00CC00"/>
<polygon points="485.90,674.54 528.54,660.60 571.19,554.84 613.83,490.88 656.47,485.42 699.11,474.76 741.76,473.12 784.40,471.75 784.40,737.40 485.90,737.40" fill="#FF6666"/>
<polygon points="485.90,675.63 528.54,662.52 571.19,557.30 613.83,493.89 656.47,488.15 699.11,476.40 741.76,474.76 784.40,473.39 784.40,737.40 485.90,737.40" fill="#009900"/>
<polygon points="485.90,677.27 528.54,665.25 571.19,560.85 613.83,496.62 656.47,490.06 699.11,476.95 741.76,475.03 784.40,474.21 784.40,737.40 485.90,737.40" fill="#000048"/>
<polygon points="485.90,707.34 528.54,695.31 571.19,590.09 613.83,522.04 656.47,513.02 699.11,499.08 741.76,494.71 784.40,491.70 784.40,737.40 485.90,737.40" fill="#3300E6"/>
<polygon points="485.90,721.55 528.54,710.07 571.19,601.84 613.83,533.24 656.47,522.31 699.11,507.83 741.76,502.91 784.40,498.54 784.40,737.40 485.90,737.40" fill="#33B2E5"/>
<polygon points="485.90,733.16 528.54,728.11 571.19,694.77 613.83,628.08 656.47,609.50 699.11,587.09 741.76,574.79 784.40,564.40 784.40,737.40 485.90,737.40" fill="#FFFF99"/>
<polygon points="485.90,734.39 528.54,730.84 571.19,706.52 613.83,655.68 656.47,656.78 699.11,658.42 741.76,661.42 784.40,657.60 784.40,737.40 485.90,737.40" fill="#FF9933"/>
<polygon points="485.90,734.39 528.54,730.84 571.19,731.39 613.83,720.73 656.47,720.18 699.11,720.73 741.76,722.64 784.40,720.73 784.40,737.40 485.90,737.40" fill="#FFFF00"/>
<path d="M485.90 737.40h3.3M485.90 710.07h3.3M485.90 682.74h3.3M485.90 655.41h3.3M485.90 628.08h3.3M485.90 600.75h3.3M485.90 573.42h3.3M485.90 546.09h3.3M485.90 518.76h3.3M485.90 491.43h3.3M485.90 464.10h3.3M485.90 737.40v-3.3M528.54 737.40v-3.3M571.19 737.40v-3.3M613.83 737.40v-3.3M656.47 737.40v-3.3M699.11 737.40v-3.3M741.76 737.40v-3.3M784.40 737.40v-3.3" stroke="#262626" stroke-width="1" fill="none"/>
<rect x="485.90" y="464.10" width="298.50" height="273.30" fill="none" stroke="#383838" stroke-width="1.6"/>
<text x="485.80" y="441.50" font-size="22.3" font-family="Liberation Sans, sans-serif" fill="#000">e) BPS-plus2040</text>
<text x="469.55" y="746.50" font-size="22.5" font-family="Liberation Sans, sans-serif" fill="#262626" text-anchor="end">0</text>
<text x="469.55" y="719.17" font-size="22.5" font-family="Liberation Sans, sans-serif" fill="#262626" text-anchor="end">10</text>
<text x="469.55" y="691.84" font-size="22.5" font-family="Liberation Sans, sans-serif" fill="#262626" text-anchor="end">20</text>
<text x="469.55" y="664.51" font-size="22.5" font-family="Liberation Sans, sans-serif" fill="#262626" text-anchor="end">30</text>
<text x="469.55" y="637.18" font-size="22.5" font-family="Liberation Sans, sans-serif" fill="#262626" text-anchor="end">40</text>
<text x="469.55" y="609.85" font-size="22.5" font-family="Liberation Sans, sans-serif" fill="#262626" text-anchor="end">50</text>
<text x="469.55" y="582.52" font-size="22.5" font-family="Liberation Sans, sans-serif" fill="#262626" text-anchor="end">60</text>
<text x="469.55" y="555.19" font-size="22.5" font-family="Liberation Sans, sans-serif" fill="#262626" text-anchor="end">70</text>
<text x="469.55" y="527.86" font-size="22.5" font-family="Liberation Sans, sans-serif" fill="#262626" text-anchor="end">80</text>
<text x="469.55" y="500.53" font-size="22.5" font-family="Liberation Sans, sans-serif" fill="#262626" text-anchor="end">90</text>
<text x="469.55" y="473.20" font-size="22.5" font-family="Liberation Sans, sans-serif" fill="#262626" text-anchor="end">100</text>
<text transform="translate(501.90 770.10) rotate(-45)" font-size="22" font-family="Liberation Sans, sans-serif" fill="#262626" text-anchor="end">2015</text>
<text transform="translate(544.54 770.10) rotate(-45)" font-size="22" font-family="Liberation Sans, sans-serif" fill="#262626" text-anchor="end">2020</text>
<text transform="translate(587.19 770.10) rotate(-45)" font-size="22" font-family="Liberation Sans, sans-serif" fill="#262626" text-anchor="end">2025</text>
<text transform="translate(629.83 770.10) rotate(-45)" font-size="22" font-family="Liberation Sans, sans-serif" fill="#262626" text-anchor="end">2030</text>
<text transform="translate(672.47 770.10) rotate(-45)" font-size="22" font-family="Liberation Sans, sans-serif" fill="#262626" text-anchor="end">2035</text>
<text transform="translate(715.11 770.10) rotate(-45)" font-size="22" font-family="Liberation Sans, sans-serif" fill="#262626" text-anchor="end">2040</text>
<text transform="translate(757.76 770.10) rotate(-45)" font-size="22" font-family="Liberation Sans, sans-serif" fill="#262626" text-anchor="end">2045</text>
<text transform="translate(800.40 770.10) rotate(-45)" font-size="22" font-family="Liberation Sans, sans-serif" fill="#262626" text-anchor="end">2050</text>
<text x="634.55" y="835.20" font-size="23.3" font-family="Liberation Sans, sans-serif" fill="#262626" text-anchor="middle">Year</text>
<text transform="translate(418.50 600.75) rotate(-90)" font-size="22.3" font-family="Liberation Sans, sans-serif" fill="#262626" text-anchor="middle">Electricity generation share [%]</text>
<polygon points="889.90,464.10 932.26,464.10 974.61,464.10 1016.97,464.10 1059.33,464.10 1101.69,464.10 1144.04,464.10 1186.40,464.10 1186.40,737.40 889.90,737.40" fill="#FF00FF"/>
<polygon points="889.90,493.34 932.26,490.61 974.61,492.52 1016.97,494.16 1059.33,494.98 1101.69,494.98 1144.04,494.98 1186.40,494.98 1186.40,737.40 889.90,737.40" fill="#262626"/>
<polygon points="889.90,502.36 932.26,494.98 974.61,503.18 1016.97,501.27 1059.33,500.72 1101.69,499.63 1144.04,497.99 1186.40,497.17 1186.40,737.40 889.90,737.40" fill="#000000"/>
<polygon points="889.90,603.48 932.26,617.15 974.61,559.75 1016.97,536.80 1059.33,521.22 1101.69,508.92 1144.04,498.26 1186.40,497.44 1186.40,737.40 889.90,737.40" fill="#806680"/>
<polygon points="889.90,612.78 932.26,618.79 974.61,563.58 1016.97,539.53 1059.33,523.13 1101.69,510.29 1144.04,498.26 1186.40,497.44 1186.40,737.40 889.90,737.40" fill="#334E80"/>
<polygon points="889.90,626.71 932.26,623.16 974.61,567.41 1016.97,541.44 1059.33,526.14 1101.69,513.57 1144.04,499.36 1186.40,499.36 1186.40,737.40 889.90,737.40" fill="#3D2B00"/>
<polygon points="889.90,626.71 932.26,623.16 974.61,567.95 1016.97,543.36 1059.33,528.87 1101.69,516.57 1144.04,503.73 1186.40,503.18 1186.40,737.40 889.90,737.40" fill="#4D4D4D"/>
<polygon points="889.90,664.16 932.26,650.49 974.61,625.89 1016.97,590.91 1059.33,564.13 1101.69,542.54 1144.04,524.23 1186.40,517.39 1186.40,737.40 889.90,737.40" fill="#3D4B66"/>
<polygon points="889.90,671.67 932.26,655.14 974.61,630.81 1016.97,595.28 1059.33,567.95 1101.69,543.36 1144.04,524.23 1186.40,517.39 1186.40,737.40 889.90,737.40" fill="#33FF33"/>
<polygon points="889.90,672.63 932.26,657.60 974.61,632.45 1016.97,597.47 1059.33,569.87 1101.69,544.45 1144.04,527.23 1186.40,520.40 1186.40,737.40 889.90,737.40" fill="#663300"/>
<polygon points="889.90,673.72 932.26,659.51 974.61,634.91 1016.97,600.20 1059.33,573.15 1101.69,549.64 1144.04,531.88 1186.40,526.41 1186.40,737.40 889.90,737.40" fill="#00CC00"/>
<polygon points="889.90,674.54 932.26,660.60 974.61,635.46 1016.97,600.75 1059.33,573.15 1101.69,549.64 1144.04,531.88 1186.40,526.41 1186.40,737.40 889.90,737.40" fill="#00CCC4"/>
<polygon points="889.90,674.54 932.26,660.60 974.61,635.46 1016.97,600.75 1059.33,573.69 1101.69,550.19 1144.04,532.70 1186.40,527.23 1186.40,737.40 889.90,737.40" fill="#E03333"/>
<polygon points="889.90,674.54 932.26,660.60 974.61,635.46 1016.97,601.57 1059.33,578.34 1101.69,555.93 1144.04,540.62 1186.40,535.16 1186.40,737.40 889.90,737.40" fill="#FF6666"/>
<polygon points="889.90,675.63 932.26,662.52 974.61,636.69 1016.97,605.12 1059.33,581.35 1101.69,560.57 1144.04,545.27 1186.40,540.08 1186.40,737.40 889.90,737.40" fill="#009900"/>
<polygon points="889.90,677.27 932.26,665.25 974.61,642.02 1016.97,610.04 1059.33,586.81 1101.69,566.31 1144.04,552.10 1186.40,548.28 1186.40,737.40 889.90,737.40" fill="#000048"/>
<polygon points="889.90,707.34 932.26,695.31 974.61,673.72 1016.97,643.38 1059.33,619.61 1101.69,599.11 1144.04,584.63 1186.40,578.89 1186.40,737.40 889.90,737.40" fill="#3300E6"/>
<polygon points="889.90,721.55 932.26,710.07 974.61,688.75 1016.97,658.69 1059.33,634.64 1101.69,614.41 1144.04,600.20 1186.40,594.46 1186.40,737.40 889.90,737.40" fill="#182A88"/>
<polygon points="889.90,721.55 932.26,710.07 974.61,688.75 1016.97,659.51 1059.33,636.01 1101.69,616.05 1144.04,601.84 1186.40,596.10 1186.40,737.40 889.90,737.40" fill="#33B2E5"/>
<polygon points="889.90,733.16 932.26,728.11 974.61,714.99 1016.97,699.96 1059.33,685.75 1101.69,674.54 1144.04,666.89 1186.40,663.34 1186.40,737.40 889.90,737.40" fill="#FFFF99"/>
<polygon points="889.90,734.39 932.26,730.84 974.61,717.72 1016.97,702.69 1059.33,690.67 1101.69,679.19 1144.04,672.63 1186.40,668.80 1186.40,737.40 889.90,737.40" fill="#FFFF00"/>
<path d="M889.90 737.40h3.3M889.90 710.07h3.3M889.90 682.74h3.3M889.90 655.41h3.3M889.90 628.08h3.3M889.90 600.75h3.3M889.90 573.42h3.3M889.90 546.09h3.3M889.90 518.76h3.3M889.90 491.43h3.3M889.90 464.10h3.3M889.90 737.40v-3.3M932.26 737.40v-3.3M974.61 737.40v-3.3M1016.97 737.40v-3.3M1059.33 737.40v-3.3M1101.69 737.40v-3.3M1144.04 737.40v-3.3M1186.40 737.40v-3.3" stroke="#262626" stroke-width="1" fill="none"/>
<rect x="889.90" y="464.10" width="296.50" height="273.30" fill="none" stroke="#383838" stroke-width="1.6"/>
<text x="889.80" y="441.50" font-size="22.3" font-family="Liberation Sans, sans-serif" fill="#000">f) IEA-SDS</text>
<text x="873.55" y="746.50" font-size="22.5" font-family="Liberation Sans, sans-serif" fill="#262626" text-anchor="end">0</text>
<text x="873.55" y="719.17" font-size="22.5" font-family="Liberation Sans, sans-serif" fill="#262626" text-anchor="end">10</text>
<text x="873.55" y="691.84" font-size="22.5" font-family="Liberation Sans, sans-serif" fill="#262626" text-anchor="end">20</text>
<text x="873.55" y="664.51" font-size="22.5" font-family="Liberation Sans, sans-serif" fill="#262626" text-anchor="end">30</text>
<text x="873.55" y="637.18" font-size="22.5" font-family="Liberation Sans, sans-serif" fill="#262626" text-anchor="end">40</text>
<text x="873.55" y="609.85" font-size="22.5" font-family="Liberation Sans, sans-serif" fill="#262626" text-anchor="end">50</text>
<text x="873.55" y="582.52" font-size="22.5" font-family="Liberation Sans, sans-serif" fill="#262626" text-anchor="end">60</text>
<text x="873.55" y="555.19" font-size="22.5" font-family="Liberation Sans, sans-serif" fill="#262626" text-anchor="end">70</text>
<text x="873.55" y="527.86" font-size="22.5" font-family="Liberation Sans, sans-serif" fill="#262626" text-anchor="end">80</text>
<text x="873.55" y="500.53" font-size="22.5" font-family="Liberation Sans, sans-serif" fill="#262626" text-anchor="end">90</text>
<text x="873.55" y="473.20" font-size="22.5" font-family="Liberation Sans, sans-serif" fill="#262626" text-anchor="end">100</text>
<text transform="translate(905.90 770.10) rotate(-45)" font-size="22" font-family="Liberation Sans, sans-serif" fill="#262626" text-anchor="end">2015</text>
<text transform="translate(948.26 770.10) rotate(-45)" font-size="22" font-family="Liberation Sans, sans-serif" fill="#262626" text-anchor="end">2020</text>
<text transform="translate(990.61 770.10) rotate(-45)" font-size="22" font-family="Liberation Sans, sans-serif" fill="#262626" text-anchor="end">2025</text>
<text transform="translate(1032.97 770.10) rotate(-45)" font-size="22" font-family="Liberation Sans, sans-serif" fill="#262626" text-anchor="end">2030</text>
<text transform="translate(1075.33 770.10) rotate(-45)" font-size="22" font-family="Liberation Sans, sans-serif" fill="#262626" text-anchor="end">2035</text>
<text transform="translate(1117.69 770.10) rotate(-45)" font-size="22" font-family="Liberation Sans, sans-serif" fill="#262626" text-anchor="end">2040</text>
<text transform="translate(1160.04 770.10) rotate(-45)" font-size="22" font-family="Liberation Sans, sans-serif" fill="#262626" text-anchor="end">2045</text>
<text transform="translate(1202.40 770.10) rotate(-45)" font-size="22" font-family="Liberation Sans, sans-serif" fill="#262626" text-anchor="end">2050</text>
<text x="1037.55" y="835.20" font-size="23.3" font-family="Liberation Sans, sans-serif" fill="#262626" text-anchor="middle">Year</text>
<text transform="translate(822.50 600.75) rotate(-90)" font-size="22.3" font-family="Liberation Sans, sans-serif" fill="#262626" text-anchor="middle">Electricity generation share [%]</text>
<polygon points="83.90,888.60 126.31,888.60 168.71,888.60 211.12,888.60 253.53,888.60 295.94,888.60 338.34,888.60 380.75,888.60 380.75,1163.50 83.90,1163.50" fill="#FF00FF"/>
<polygon points="83.90,918.01 126.31,915.27 168.71,914.72 211.12,914.17 253.53,913.34 295.94,912.24 338.34,911.42 380.75,910.87 380.75,1163.50 83.90,1163.50" fill="#262626"/>
<polygon points="83.90,927.09 126.31,919.66 168.71,918.84 211.12,914.72 253.53,913.34 295.94,912.24 338.34,911.42 380.75,910.87 380.75,1163.50 83.90,1163.50" fill="#000000"/>
<polygon points="83.90,1028.80 126.31,1042.54 168.71,1002.00 211.12,993.34 253.53,982.89 295.94,975.19 338.34,968.60 380.75,961.72 380.75,1163.50 83.90,1163.50" fill="#806680"/>
<polygon points="83.90,1038.15 126.31,1044.19 168.71,1008.04 211.12,998.01 253.53,986.46 295.94,978.77 338.34,971.34 380.75,963.65 380.75,1163.50 83.90,1163.50" fill="#334E80"/>
<polygon points="83.90,1052.17 126.31,1048.59 168.71,1011.21 211.12,1001.03 253.53,989.49 295.94,982.34 338.34,974.37 380.75,966.67 380.75,1163.50 83.90,1163.50" fill="#4D4D4D"/>
<polygon points="83.90,1089.83 126.31,1076.08 168.71,1067.56 211.12,1049.69 253.53,1038.15 295.94,1027.70 338.34,1020.83 380.75,1012.03 380.75,1163.50 83.90,1163.50" fill="#3D4B66"/>
<polygon points="83.90,1097.39 126.31,1080.76 168.71,1073.88 211.12,1057.94 253.53,1046.39 295.94,1035.67 338.34,1028.52 380.75,1018.63 380.75,1163.50 83.90,1163.50" fill="#33FF33"/>
<polygon points="83.90,1098.35 126.31,1083.23 168.71,1076.36 211.12,1059.86 253.53,1048.87 295.94,1037.87 338.34,1031.27 380.75,1021.10 380.75,1163.50 83.90,1163.50" fill="#663300"/>
<polygon points="83.90,1099.45 126.31,1085.15 168.71,1078.28 211.12,1062.34 253.53,1051.34 295.94,1041.44 338.34,1035.12 380.75,1024.95 380.75,1163.50 83.90,1163.50" fill="#00CC00"/>
<polygon points="83.90,1100.27 126.31,1086.25 168.71,1078.28 211.12,1062.34 253.53,1051.34 295.94,1041.44 338.34,1035.12 380.75,1024.95 380.75,1163.50 83.90,1163.50" fill="#FF6666"/>
<polygon points="83.90,1101.37 126.31,1088.18 168.71,1080.48 211.12,1064.81 253.53,1053.81 295.94,1043.92 338.34,1037.60 380.75,1027.97 380.75,1163.50 83.90,1163.50" fill="#009900"/>
<polygon points="83.90,1103.02 126.31,1090.93 168.71,1082.95 211.12,1067.83 253.53,1057.39 295.94,1047.77 338.34,1042.82 380.75,1034.30 380.75,1163.50 83.90,1163.50" fill="#000048"/>
<polygon points="83.90,1133.26 126.31,1121.17 168.71,1112.92 211.12,1100.27 253.53,1087.63 295.94,1076.36 338.34,1070.45 380.75,1060.41 380.75,1163.50 83.90,1163.50" fill="#3300E6"/>
<polygon points="83.90,1147.56 126.31,1136.01 168.71,1127.49 211.12,1114.29 253.53,1100.82 295.94,1090.10 338.34,1084.60 380.75,1073.88 380.75,1163.50 83.90,1163.50" fill="#33B2E5"/>
<polygon points="83.90,1159.24 126.31,1154.15 168.71,1148.38 211.12,1142.33 253.53,1131.89 295.94,1126.11 338.34,1120.89 380.75,1115.94 380.75,1163.50 83.90,1163.50" fill="#FFFF99"/>
<polygon points="83.90,1160.48 126.31,1156.90 168.71,1151.68 211.12,1145.08 253.53,1136.01 295.94,1130.51 338.34,1125.84 380.75,1121.99 380.75,1163.50 83.90,1163.50" fill="#FFFF00"/>
<path d="M83.90 1163.50h3.3M83.90 1136.01h3.3M83.90 1108.52h3.3M83.90 1081.03h3.3M83.90 1053.54h3.3M83.90 1026.05h3.3M83.90 998.56h3.3M83.90 971.07h3.3M83.90 943.58h3.3M83.90 916.09h3.3M83.90 888.60h3.3M83.90 1163.50v-3.3M126.31 1163.50v-3.3M168.71 1163.50v-3.3M211.12 1163.50v-3.3M253.53 1163.50v-3.3M295.94 1163.50v-3.3M338.34 1163.50v-3.3M380.75 1163.50v-3.3" stroke="#262626" stroke-width="1" fill="none"/>
<rect x="83.90" y="888.60" width="296.85" height="274.90" fill="none" stroke="#383838" stroke-width="1.6"/>
<text x="83.80" y="866.00" font-size="22.3" font-family="Liberation Sans, sans-serif" fill="#000">g) IEA-STEPS</text>
<text x="67.55" y="1172.60" font-size="22.5" font-family="Liberation Sans, sans-serif" fill="#262626" text-anchor="end">0</text>
<text x="67.55" y="1145.11" font-size="22.5" font-family="Liberation Sans, sans-serif" fill="#262626" text-anchor="end">10</text>
<text x="67.55" y="1117.62" font-size="22.5" font-family="Liberation Sans, sans-serif" fill="#262626" text-anchor="end">20</text>
<text x="67.55" y="1090.13" font-size="22.5" font-family="Liberation Sans, sans-serif" fill="#262626" text-anchor="end">30</text>
<text x="67.55" y="1062.64" font-size="22.5" font-family="Liberation Sans, sans-serif" fill="#262626" text-anchor="end">40</text>
<text x="67.55" y="1035.15" font-size="22.5" font-family="Liberation Sans, sans-serif" fill="#262626" text-anchor="end">50</text>
<text x="67.55" y="1007.66" font-size="22.5" font-family="Liberation Sans, sans-serif" fill="#262626" text-anchor="end">60</text>
<text x="67.55" y="980.17" font-size="22.5" font-family="Liberation Sans, sans-serif" fill="#262626" text-anchor="end">70</text>
<text x="67.55" y="952.68" font-size="22.5" font-family="Liberation Sans, sans-serif" fill="#262626" text-anchor="end">80</text>
<text x="67.55" y="925.19" font-size="22.5" font-family="Liberation Sans, sans-serif" fill="#262626" text-anchor="end">90</text>
<text x="67.55" y="897.70" font-size="22.5" font-family="Liberation Sans, sans-serif" fill="#262626" text-anchor="end">100</text>
<text transform="translate(99.90 1196.20) rotate(-45)" font-size="22" font-family="Liberation Sans, sans-serif" fill="#262626" text-anchor="end">2015</text>
<text transform="translate(142.31 1196.20) rotate(-45)" font-size="22" font-family="Liberation Sans, sans-serif" fill="#262626" text-anchor="end">2020</text>
<text transform="translate(184.71 1196.20) rotate(-45)" font-size="22" font-family="Liberation Sans, sans-serif" fill="#262626" text-anchor="end">2025</text>
<text transform="translate(227.12 1196.20) rotate(-45)" font-size="22" font-family="Liberation Sans, sans-serif" fill="#262626" text-anchor="end">2030</text>
<text transform="translate(269.53 1196.20) rotate(-45)" font-size="22" font-family="Liberation Sans, sans-serif" fill="#262626" text-anchor="end">2035</text>
<text transform="translate(311.94 1196.20) rotate(-45)" font-size="22" font-family="Liberation Sans, sans-serif" fill="#262626" text-anchor="end">2040</text>
<text transform="translate(354.34 1196.20) rotate(-45)" font-size="22" font-family="Liberation Sans, sans-serif" fill="#262626" text-anchor="end">2045</text>
<text transform="translate(396.75 1196.20) rotate(-45)" font-size="22" font-family="Liberation Sans, sans-serif" fill="#262626" text-anchor="end">2050</text>
<text x="231.73" y="1261.30" font-size="23.3" font-family="Liberation Sans, sans-serif" fill="#262626" text-anchor="middle">Year</text>
<text transform="translate(16.50 1026.05) rotate(-90)" font-size="22.3" font-family="Liberation Sans, sans-serif" fill="#262626" text-anchor="middle">Electricity generation share [%]</text>
<polygon points="485.90,888.60 528.54,888.60 571.19,888.60 613.83,888.60 656.47,888.60 699.11,888.60 741.76,888.60 784.40,888.60 784.40,1163.50 485.90,1163.50" fill="#FF00FF"/>
<polygon points="485.90,918.01 528.54,915.27 571.19,908.39 613.83,900.15 656.47,892.45 699.11,889.56 741.76,889.29 784.40,888.87 784.40,1163.50 485.90,1163.50" fill="#262626"/>
<polygon points="485.90,927.09 528.54,919.66 571.19,918.01 613.83,901.80 656.47,892.45 699.11,889.56 741.76,889.29 784.40,888.87 784.40,1163.50 485.90,1163.50" fill="#000000"/>
<polygon points="485.90,1028.80 528.54,1042.54 571.19,958.42 613.83,919.11 656.47,902.76 699.11,889.56 741.76,889.29 784.40,888.87 784.40,1163.50 485.90,1163.50" fill="#806680"/>
<polygon points="485.90,1038.15 528.54,1044.19 571.19,961.45 613.83,919.94 656.47,903.72 699.11,889.56 741.76,889.29 784.40,888.87 784.40,1163.50 485.90,1163.50" fill="#334E80"/>
<polygon points="485.90,1052.17 528.54,1048.59 571.19,964.20 613.83,921.59 656.47,904.27 699.11,889.56 741.76,889.29 784.40,888.87 784.40,1163.50 485.90,1163.50" fill="#4D4D4D"/>
<polygon points="485.90,1089.83 528.54,1076.08 571.19,1004.88 613.83,950.73 656.47,920.76 699.11,898.77 741.76,892.59 784.40,889.29 784.40,1163.50 485.90,1163.50" fill="#3D4B66"/>
<polygon points="485.90,1097.39 528.54,1080.76 571.19,1028.52 613.83,968.05 656.47,934.78 699.11,909.22 741.76,896.57 784.40,890.80 784.40,1163.50 485.90,1163.50" fill="#33FF33"/>
<polygon points="485.90,1098.35 528.54,1083.23 571.19,1031.27 613.83,972.72 656.47,938.08 699.11,912.79 741.76,901.66 784.40,895.20 784.40,1163.50 485.90,1163.50" fill="#663300"/>
<polygon points="485.90,1099.45 528.54,1085.15 571.19,1034.02 613.83,977.39 656.47,943.31 699.11,918.29 741.76,907.71 784.40,899.87 784.40,1163.50 485.90,1163.50" fill="#00CC00"/>
<polygon points="485.90,1100.27 528.54,1086.25 571.19,1034.02 613.83,977.39 656.47,943.31 699.11,918.29 741.76,907.71 784.40,899.87 784.40,1163.50 485.90,1163.50" fill="#00CCC4"/>
<polygon points="485.90,1100.27 528.54,1086.25 571.19,1035.12 613.83,979.32 656.47,947.43 699.11,922.96 741.76,913.34 784.40,906.47 784.40,1163.50 485.90,1163.50" fill="#E03333"/>
<polygon points="485.90,1100.27 528.54,1086.25 571.19,1037.87 613.83,994.44 656.47,974.64 699.11,957.60 741.76,952.10 784.40,947.43 784.40,1163.50 485.90,1163.50" fill="#FF6666"/>
<polygon points="485.90,1101.37 528.54,1088.18 571.19,1041.72 613.83,1001.86 656.47,985.91 699.11,971.34 741.76,968.73 784.40,964.47 784.40,1163.50 485.90,1163.50" fill="#009900"/>
<polygon points="485.90,1103.02 528.54,1090.93 571.19,1046.39 613.83,1010.11 656.47,993.34 699.11,979.87 741.76,975.19 784.40,971.76 784.40,1163.50 485.90,1163.50" fill="#000048"/>
<polygon points="485.90,1133.26 528.54,1121.17 571.19,1074.98 613.83,1035.12 656.47,1016.15 699.11,999.38 741.76,993.89 784.40,988.94 784.40,1163.50 485.90,1163.50" fill="#3300E6"/>
<polygon points="485.90,1147.56 528.54,1136.01 571.19,1086.53 613.83,1046.39 656.47,1025.50 699.11,1009.01 741.76,1002.41 784.40,997.46 784.40,1163.50 485.90,1163.50" fill="#182A88"/>
<polygon points="485.90,1147.56 528.54,1136.01 571.19,1092.30 613.83,1060.96 656.47,1046.39 699.11,1033.75 741.76,1027.15 784.40,1023.58 784.40,1163.50 485.90,1163.50" fill="#33B2E5"/>
<polygon points="485.90,1159.24 528.54,1154.15 571.19,1128.04 613.83,1110.72 656.47,1099.17 699.11,1090.65 741.76,1086.80 784.40,1084.05 784.40,1163.50 485.90,1163.50" fill="#FFFF99"/>
<polygon points="485.90,1160.48 528.54,1156.90 571.19,1153.60 613.83,1151.13 656.47,1148.38 699.11,1145.08 741.76,1144.39 784.40,1143.98 784.40,1163.50 485.90,1163.50" fill="#FFFF00"/>
<path d="M485.90 1163.50h3.3M485.90 1136.01h3.3M485.90 1108.52h3.3M485.90 1081.03h3.3M485.90 1053.54h3.3M485.90 1026.05h3.3M485.90 998.56h3.3M485.90 971.07h3.3M485.90 943.58h3.3M485.90 916.09h3.3M485.90 888.60h3.3M485.90 1163.50v-3.3M528.54 1163.50v-3.3M571.19 1163.50v-3.3M613.83 1163.50v-3.3M656.47 1163.50v-3.3M699.11 1163.50v-3.3M741.76 1163.50v-3.3M784.40 1163.50v-3.3" stroke="#262626" stroke-width="1" fill="none"/>
<rect x="485.90" y="888.60" width="298.50" height="274.90" fill="none" stroke="#383838" stroke-width="1.6"/>
<text x="485.80" y="866.00" font-size="22.3" font-family="Liberation Sans, sans-serif" fill="#000">h) TESKE/DLR-1.5<tspan dy="-9.5" font-size="18">o</tspan><tspan dy="9.5" dx="0.5">C</tspan></text>
<text x="469.55" y="1172.60" font-size="22.5" font-family="Liberation Sans, sans-serif" fill="#262626" text-anchor="end">0</text>
<text x="469.55" y="1145.11" font-size="22.5" font-family="Liberation Sans, sans-serif" fill="#262626" text-anchor="end">10</text>
<text x="469.55" y="1117.62" font-size="22.5" font-family="Liberation Sans, sans-serif" fill="#262626" text-anchor="end">20</text>
<text x="469.55" y="1090.13" font-size="22.5" font-family="Liberation Sans, sans-serif" fill="#262626" text-anchor="end">30</text>
<text x="469.55" y="1062.64" font-size="22.5" font-family="Liberation Sans, sans-serif" fill="#262626" text-anchor="end">40</text>
<text x="469.55" y="1035.15" font-size="22.5" font-family="Liberation Sans, sans-serif" fill="#262626" text-anchor="end">50</text>
<text x="469.55" y="1007.66" font-size="22.5" font-family="Liberation Sans, sans-serif" fill="#262626" text-anchor="end">60</text>
<text x="469.55" y="980.17" font-size="22.5" font-family="Liberation Sans, sans-serif" fill="#262626" text-anchor="end">70</text>
<text x="469.55" y="952.68" font-size="22.5" font-family="Liberation Sans, sans-serif" fill="#262626" text-anchor="end">80</text>
<text x="469.55" y="925.19" font-size="22.5" font-family="Liberation Sans, sans-serif" fill="#262626" text-anchor="end">90</text>
<text x="469.55" y="897.70" font-size="22.5" font-family="Liberation Sans, sans-serif" fill="#262626" text-anchor="end">100</text>
<text transform="translate(501.90 1196.20) rotate(-45)" font-size="22" font-family="Liberation Sans, sans-serif" fill="#262626" text-anchor="end">2015</text>
<text transform="translate(544.54 1196.20) rotate(-45)" font-size="22" font-family="Liberation Sans, sans-serif" fill="#262626" text-anchor="end">2020</text>
<text transform="translate(587.19 1196.20) rotate(-45)" font-size="22" font-family="Liberation Sans, sans-serif" fill="#262626" text-anchor="end">2025</text>
<text transform="translate(629.83 1196.20) rotate(-45)" font-size="22" font-family="Liberation Sans, sans-serif" fill="#262626" text-anchor="end">2030</text>
<text transform="translate(672.47 1196.20) rotate(-45)" font-size="22" font-family="Liberation Sans, sans-serif" fill="#262626" text-anchor="end">2035</text>
<text transform="translate(715.11 1196.20) rotate(-45)" font-size="22" font-family="Liberation Sans, sans-serif" fill="#262626" text-anchor="end">2040</text>
<text transform="translate(757.76 1196.20) rotate(-45)" font-size="22" font-family="Liberation Sans, sans-serif" fill="#262626" text-anchor="end">2045</text>
<text transform="translate(800.40 1196.20) rotate(-45)" font-size="22" font-family="Liberation Sans, sans-serif" fill="#262626" text-anchor="end">2050</text>
<text x="634.55" y="1261.30" font-size="23.3" font-family="Liberation Sans, sans-serif" fill="#262626" text-anchor="middle">Year</text>
<text transform="translate(418.50 1026.05) rotate(-90)" font-size="22.3" font-family="Liberation Sans, sans-serif" fill="#262626" text-anchor="middle">Electricity generation share [%]</text>
<polygon points="889.90,888.60 932.26,888.60 974.61,888.60 1016.97,888.60 1059.33,888.60 1101.69,888.60 1144.04,888.60 1186.40,888.60 1186.40,1163.50 889.90,1163.50" fill="#FF00FF"/>
<polygon points="889.90,918.01 932.26,915.27 974.61,908.39 1016.97,900.42 1059.33,894.37 1101.69,889.97 1144.04,890.52 1186.40,888.87 1186.40,1163.50 889.90,1163.50" fill="#262626"/>
<polygon points="889.90,927.09 932.26,919.66 974.61,918.01 1016.97,904.54 1059.33,898.22 1101.69,889.97 1144.04,890.52 1186.40,888.87 1186.40,1163.50 889.90,1163.50" fill="#000000"/>
<polygon points="889.90,1028.80 932.26,1042.54 974.61,977.39 1016.97,937.81 1059.33,914.72 1101.69,897.12 1144.04,894.10 1186.40,888.87 1186.40,1163.50 889.90,1163.50" fill="#806680"/>
<polygon points="889.90,1038.15 932.26,1044.19 974.61,981.24 1016.97,939.73 1059.33,916.09 1101.69,897.40 1144.04,894.10 1186.40,888.87 1186.40,1163.50 889.90,1163.50" fill="#334E80"/>
<polygon points="889.90,1052.17 932.26,1048.59 974.61,983.99 1016.97,941.38 1059.33,916.91 1101.69,897.67 1144.04,894.10 1186.40,888.87 1186.40,1163.50 889.90,1163.50" fill="#4D4D4D"/>
<polygon points="889.90,1089.83 932.26,1076.08 974.61,1027.42 1016.97,977.39 1059.33,940.56 1101.69,912.79 1144.04,900.15 1186.40,889.29 1186.40,1163.50 889.90,1163.50" fill="#3D4B66"/>
<polygon points="889.90,1097.39 932.26,1080.76 974.61,1047.77 1016.97,994.44 1059.33,954.85 1101.69,924.34 1144.04,905.64 1186.40,891.07 1186.40,1163.50 889.90,1163.50" fill="#33FF33"/>
<polygon points="889.90,1098.35 932.26,1083.23 974.61,1050.24 1016.97,997.19 1059.33,957.33 1101.69,926.26 1144.04,908.12 1186.40,894.10 1186.40,1163.50 889.90,1163.50" fill="#663300"/>
<polygon points="889.90,1099.45 932.26,1085.15 974.61,1052.72 1016.97,1001.03 1059.33,961.17 1101.69,932.45 1144.04,914.30 1186.40,899.60 1186.40,1163.50 889.90,1163.50" fill="#00CC00"/>
<polygon points="889.90,1100.27 932.26,1086.25 974.61,1052.72 1016.97,1001.03 1059.33,961.17 1101.69,932.45 1144.04,914.30 1186.40,899.60 1186.40,1163.50 889.90,1163.50" fill="#00CCC4"/>
<polygon points="889.90,1100.27 932.26,1086.25 974.61,1052.72 1016.97,1002.96 1059.33,966.12 1101.69,936.98 1144.04,920.35 1186.40,906.74 1186.40,1163.50 889.90,1163.50" fill="#E03333"/>
<polygon points="889.90,1100.27 932.26,1086.25 974.61,1054.91 1016.97,1014.23 1059.33,988.66 1101.69,968.73 1144.04,958.15 1186.40,949.63 1186.40,1163.50 889.90,1163.50" fill="#FF6666"/>
<polygon points="889.90,1101.37 932.26,1088.18 974.61,1057.39 1016.97,1020.83 1059.33,999.93 1101.69,982.34 1144.04,975.19 1186.40,967.77 1186.40,1163.50 889.90,1163.50" fill="#009900"/>
<polygon points="889.90,1103.02 932.26,1090.93 974.61,1062.34 1016.97,1027.42 1059.33,1006.81 1101.69,990.31 1144.04,982.34 1186.40,975.19 1186.40,1163.50 889.90,1163.50" fill="#000048"/>
<polygon points="889.90,1133.26 932.26,1121.17 974.61,1091.20 1016.97,1052.17 1059.33,1029.35 1101.69,1010.11 1144.04,1000.48 1186.40,992.51 1186.40,1163.50 889.90,1163.50" fill="#3300E6"/>
<polygon points="889.90,1147.56 932.26,1136.01 974.61,1104.67 1016.97,1063.44 1059.33,1038.70 1101.69,1019.18 1144.04,1009.56 1186.40,1001.03 1186.40,1163.50 889.90,1163.50" fill="#182A88"/>
<polygon points="889.90,1147.56 932.26,1136.01 974.61,1107.15 1016.97,1073.88 1059.33,1056.29 1101.69,1041.72 1144.04,1033.75 1186.40,1026.87 1186.40,1163.50 889.90,1163.50" fill="#33B2E5"/>
<polygon points="889.90,1159.24 932.26,1154.15 974.61,1136.56 1016.97,1118.14 1059.33,1106.87 1101.69,1097.80 1144.04,1092.16 1186.40,1087.08 1186.40,1163.50 889.90,1163.50" fill="#FFFF99"/>
<polygon points="889.90,1160.48 932.26,1156.90 974.61,1155.25 1016.97,1153.05 1059.33,1149.21 1101.69,1147.56 1144.04,1146.18 1186.40,1144.53 1186.40,1163.50 889.90,1163.50" fill="#FFFF00"/>
<path d="M889.90 1163.50h3.3M889.90 1136.01h3.3M889.90 1108.52h3.3M889.90 1081.03h3.3M889.90 1053.54h3.3M889.90 1026.05h3.3M889.90 998.56h3.3M889.90 971.07h3.3M889.90 943.58h3.3M889.90 916.09h3.3M889.90 888.60h3.3M889.90 1163.50v-3.3M932.26 1163.50v-3.3M974.61 1163.50v-3.3M1016.97 1163.50v-3.3M1059.33 1163.50v-3.3M1101.69 1163.50v-3.3M1144.04 1163.50v-3.3M1186.40 1163.50v-3.3" stroke="#262626" stroke-width="1" fill="none"/>
<rect x="889.90" y="888.60" width="296.50" height="274.90" fill="none" stroke="#383838" stroke-width="1.6"/>
<text x="889.80" y="866.00" font-size="22.3" font-family="Liberation Sans, sans-serif" fill="#000">i) TESKE/DLR-2.0<tspan dy="-9.5" font-size="18">o</tspan><tspan dy="9.5" dx="0.5">C</tspan></text>
<text x="873.55" y="1172.60" font-size="22.5" font-family="Liberation Sans, sans-serif" fill="#262626" text-anchor="end">0</text>
<text x="873.55" y="1145.11" font-size="22.5" font-family="Liberation Sans, sans-serif" fill="#262626" text-anchor="end">10</text>
<text x="873.55" y="1117.62" font-size="22.5" font-family="Liberation Sans, sans-serif" fill="#262626" text-anchor="end">20</text>
<text x="873.55" y="1090.13" font-size="22.5" font-family="Liberation Sans, sans-serif" fill="#262626" text-anchor="end">30</text>
<text x="873.55" y="1062.64" font-size="22.5" font-family="Liberation Sans, sans-serif" fill="#262626" text-anchor="end">40</text>
<text x="873.55" y="1035.15" font-size="22.5" font-family="Liberation Sans, sans-serif" fill="#262626" text-anchor="end">50</text>
<text x="873.55" y="1007.66" font-size="22.5" font-family="Liberation Sans, sans-serif" fill="#262626" text-anchor="end">60</text>
<text x="873.55" y="980.17" font-size="22.5" font-family="Liberation Sans, sans-serif" fill="#262626" text-anchor="end">70</text>
<text x="873.55" y="952.68" font-size="22.5" font-family="Liberation Sans, sans-serif" fill="#262626" text-anchor="end">80</text>
<text x="873.55" y="925.19" font-size="22.5" font-family="Liberation Sans, sans-serif" fill="#262626" text-anchor="end">90</text>
<text x="873.55" y="897.70" font-size="22.5" font-family="Liberation Sans, sans-serif" fill="#262626" text-anchor="end">100</text>
<text transform="translate(905.90 1196.20) rotate(-45)" font-size="22" font-family="Liberation Sans, sans-serif" fill="#262626" text-anchor="end">2015</text>
<text transform="translate(948.26 1196.20) rotate(-45)" font-size="22" font-family="Liberation Sans, sans-serif" fill="#262626" text-anchor="end">2020</text>
<text transform="translate(990.61 1196.20) rotate(-45)" font-size="22" font-family="Liberation Sans, sans-serif" fill="#262626" text-anchor="end">2025</text>
<text transform="translate(1032.97 1196.20) rotate(-45)" font-size="22" font-family="Liberation Sans, sans-serif" fill="#262626" text-anchor="end">2030</text>
<text transform="translate(1075.33 1196.20) rotate(-45)" font-size="22" font-family="Liberation Sans, sans-serif" fill="#262626" text-anchor="end">2035</text>
<text transform="translate(1117.69 1196.20) rotate(-45)" font-size="22" font-family="Liberation Sans, sans-serif" fill="#262626" text-anchor="end">2040</text>
<text transform="translate(1160.04 1196.20) rotate(-45)" font-size="22" font-family="Liberation Sans, sans-serif" fill="#262626" text-anchor="end">2045</text>
<text transform="translate(1202.40 1196.20) rotate(-45)" font-size="22" font-family="Liberation Sans, sans-serif" fill="#262626" text-anchor="end">2050</text>
<text x="1037.55" y="1261.30" font-size="23.3" font-family="Liberation Sans, sans-serif" fill="#262626" text-anchor="middle">Year</text>
<text transform="translate(822.50 1026.05) rotate(-90)" font-size="22.3" font-family="Liberation Sans, sans-serif" fill="#262626" text-anchor="middle">Electricity generation share [%]</text>
<rect x="80.40" y="1290.20" width="84.3" height="21.2" fill="#FFFF00"/>
<text x="170.30" y="1310.00" font-size="22.4" font-family="Liberation Sans, sans-serif" fill="#000">PV fixed tilted</text>
<rect x="371.30" y="1290.20" width="84.3" height="21.2" fill="#FF9933"/>
<text x="461.20" y="1310.00" font-size="22.4" font-family="Liberation Sans, sans-serif" fill="#000">PV single-axis</text>
<rect x="697.70" y="1290.20" width="84.3" height="21.2" fill="#FFFF99"/>
<text x="787.60" y="1310.00" font-size="22.4" font-family="Liberation Sans, sans-serif" fill="#000">PV prosumers</text>
<rect x="956.50" y="1290.20" width="84.3" height="21.2" fill="#33B2E5"/>
<text x="1046.40" y="1310.00" font-size="22.4" font-family="Liberation Sans, sans-serif" fill="#000">Wind onshore</text>
<rect x="80.40" y="1319.70" width="84.3" height="21.2" fill="#182A88"/>
<text x="170.30" y="1339.50" font-size="22.4" font-family="Liberation Sans, sans-serif" fill="#000">Wind offshore</text>
<rect x="371.30" y="1319.70" width="84.3" height="21.2" fill="#3300E6"/>
<text x="461.20" y="1339.50" font-size="22.4" font-family="Liberation Sans, sans-serif" fill="#000">Hydro run-of-river</text>
<rect x="697.70" y="1319.70" width="84.3" height="21.2" fill="#000048"/>
<text x="787.60" y="1339.50" font-size="22.4" font-family="Liberation Sans, sans-serif" fill="#000">Hydro reservoir</text>
<rect x="956.50" y="1319.70" width="84.3" height="21.2" fill="#009900"/>
<text x="1046.40" y="1339.50" font-size="22.4" font-family="Liberation Sans, sans-serif" fill="#000">Biomass solid</text>
<rect x="80.40" y="1349.20" width="84.3" height="21.2" fill="#FF6666"/>
<text x="170.30" y="1369.00" font-size="22.4" font-family="Liberation Sans, sans-serif" fill="#000">Geothermal power</text>
<rect x="371.30" y="1349.20" width="84.3" height="21.2" fill="#E03333"/>
<text x="461.20" y="1369.00" font-size="22.4" font-family="Liberation Sans, sans-serif" fill="#000">CSP ST</text>
<rect x="697.70" y="1349.20" width="84.3" height="21.2" fill="#666666"/>
<text x="787.60" y="1369.00" font-size="22.4" font-family="Liberation Sans, sans-serif" fill="#000">ST others</text>
<rect x="956.50" y="1349.20" width="84.3" height="21.2" fill="#00CCC4"/>
<text x="1046.40" y="1369.00" font-size="22.4" font-family="Liberation Sans, sans-serif" fill="#000">Wave</text>
<rect x="80.40" y="1378.70" width="84.3" height="21.2" fill="#00CC00"/>
<text x="170.30" y="1398.50" font-size="22.4" font-family="Liberation Sans, sans-serif" fill="#000">Biomass CHP</text>
<rect x="371.30" y="1378.70" width="84.3" height="21.2" fill="#663300"/>
<text x="461.20" y="1398.50" font-size="22.4" font-family="Liberation Sans, sans-serif" fill="#000">Waste-to-energy CHP</text>
<rect x="697.70" y="1378.70" width="84.3" height="21.2" fill="#33FF33"/>
<text x="787.60" y="1398.50" font-size="22.4" font-family="Liberation Sans, sans-serif" fill="#000">Biogas CHP</text>
<rect x="956.50" y="1378.70" width="84.3" height="21.2" fill="#3D4B66"/>
<text x="1046.40" y="1398.50" font-size="22.4" font-family="Liberation Sans, sans-serif" fill="#000">Methane CHP</text>
<rect x="80.40" y="1408.20" width="84.3" height="21.2" fill="#003366"/>
<text x="170.30" y="1428.00" font-size="22.4" font-family="Liberation Sans, sans-serif" fill="#000">Fuel Cell CHP</text>
<rect x="371.30" y="1408.20" width="84.3" height="21.2" fill="#4D4D4D"/>
<text x="461.20" y="1428.00" font-size="22.4" font-family="Liberation Sans, sans-serif" fill="#000">CCGT</text>
<rect x="697.70" y="1408.20" width="84.3" height="21.2" fill="#3D2B00"/>
<text x="787.60" y="1428.00" font-size="22.4" font-family="Liberation Sans, sans-serif" fill="#000">CCGT CCS</text>
<rect x="956.50" y="1408.20" width="84.3" height="21.2" fill="#334E80"/>
<text x="1046.40" y="1428.00" font-size="22.4" font-family="Liberation Sans, sans-serif" fill="#000">OCGT</text>
<rect x="80.40" y="1437.70" width="84.3" height="21.2" fill="#806680"/>
<text x="170.30" y="1457.50" font-size="22.4" font-family="Liberation Sans, sans-serif" fill="#000">ICE</text>
<rect x="371.30" y="1437.70" width="84.3" height="21.2" fill="#995599"/>
<text x="461.20" y="1457.50" font-size="22.4" font-family="Liberation Sans, sans-serif" fill="#000">Multifuel ICE</text>
<rect x="697.70" y="1437.70" width="84.3" height="21.2" fill="#000000"/>
<text x="787.60" y="1457.50" font-size="22.4" font-family="Liberation Sans, sans-serif" fill="#000">Coal</text>
<rect x="956.50" y="1437.70" width="84.3" height="21.2" fill="#1A1A1A"/>
<text x="1046.40" y="1457.50" font-size="22.4" font-family="Liberation Sans, sans-serif" fill="#000">Coal CCS</text>
<rect x="80.40" y="1467.20" width="84.3" height="21.2" fill="#262626"/>
<text x="170.30" y="1487.00" font-size="22.4" font-family="Liberation Sans, sans-serif" fill="#000">Coal CHP</text>
<rect x="371.30" y="1467.20" width="84.3" height="21.2" fill="#806060"/>
<text x="461.20" y="1487.00" font-size="22.4" font-family="Liberation Sans, sans-serif" fill="#000">Oil CHP</text>
<rect x="697.70" y="1467.20" width="84.3" height="21.2" fill="#FF00FF"/>
<text x="787.60" y="1487.00" font-size="22.4" font-family="Liberation Sans, sans-serif" fill="#000">Nuclear</text>
</svg>
</body></html>
